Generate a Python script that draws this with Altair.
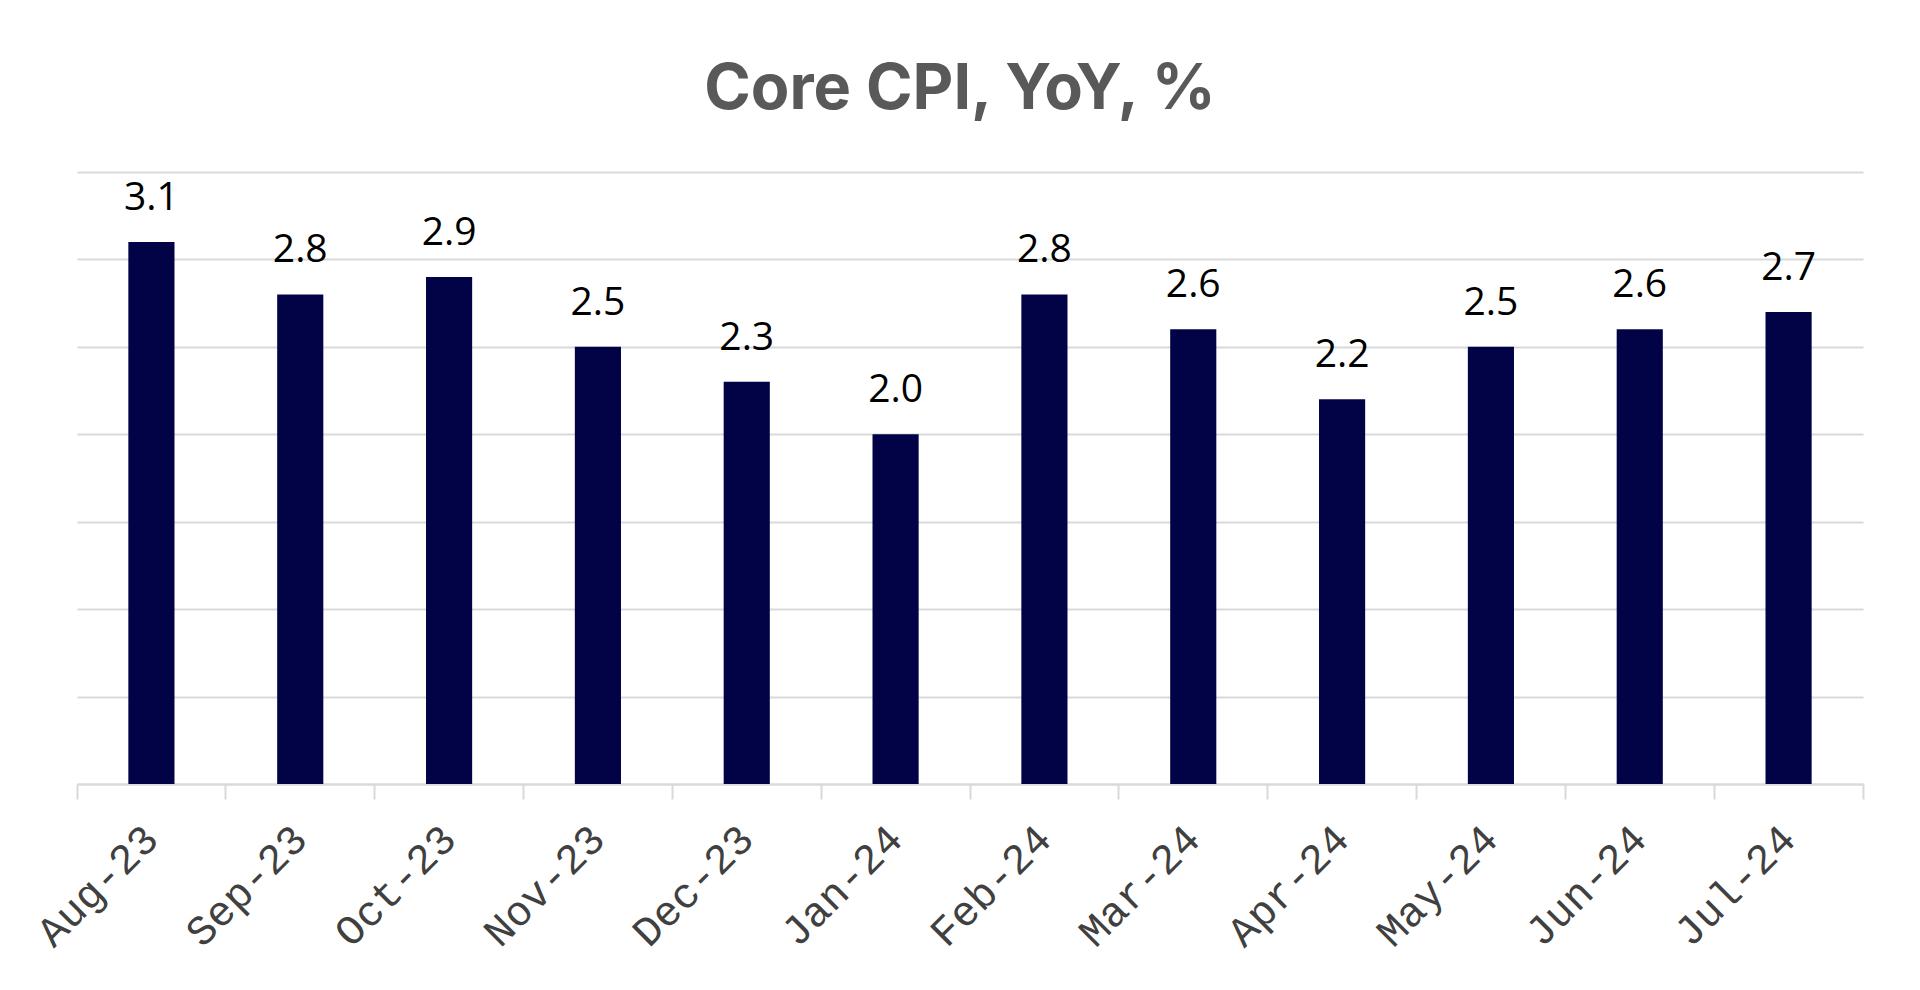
import altair as alt
import pandas as pd

months = ["Aug-23", "Sep-23", "Oct-23", "Nov-23", "Dec-23", "Jan-24",
          "Feb-24", "Mar-24", "Apr-24", "May-24", "Jun-24", "Jul-24"]
values = [3.1, 2.8, 2.9, 2.5, 2.3, 2.0, 2.8, 2.6, 2.2, 2.5, 2.6, 2.7]
grid_values = [0, 0.5, 1.0, 1.5, 2.0, 2.5, 3.0, 3.5]

df = pd.DataFrame({"month": months, "value": values})

W = 1786

x_enc = alt.X("month:N", sort=months, title=None,
              scale=alt.Scale(paddingInner=0, paddingOuter=0),
              axis=alt.Axis(labelAngle=-45, labelAlign="right", labelBaseline="middle",
                            labelFont="Liberation Mono", labelFontSize=42,
                            labelColor="#404040", labelPadding=33,
                            bandPosition=1, tickExtra=True,
                            tickSize=15, tickWidth=2,
                            tickColor="#d9d9d9", domainColor="#d9d9d9",
                            domainWidth=2, grid=False))
y_enc = alt.Y("value:Q", title=None,
              scale=alt.Scale(domain=[0, 3.5], nice=False, zero=True),
              axis=alt.Axis(values=grid_values, labels=False, ticks=False,
                            domain=False, grid=True, gridColor="#d9d9d9",
                            gridWidth=2))

base = alt.Chart(df)
bars = base.mark_bar(color="#020347", width=alt.RelativeBandSize(0.31)).encode(x=x_enc, y=y_enc)
text = base.mark_text(font="Open Sans", fontSize=39, color="#000000",
                      baseline="alphabetic", dy=-32).encode(
    x=alt.X("month:N", sort=months),
    y=alt.Y("value:Q"),
    text=alt.Text("value:Q", format=".1f"))

chart = alt.layer(bars, text).properties(
    width=W, height=612,
    title=alt.TitleParams("Core CPI, YoY, %", font="Inter", fontSize=63,
                          fontWeight="bold", color="#595959", anchor="middle",
                          offset=50, dx=-10),
    autosize=alt.AutoSizeParams(type="none"),
    padding={"left": 69, "top": 164, "right": 40, "bottom": 190},
).configure_view(stroke=None)

chart.save("out.html", embed_options={"renderer": "svg", "actions": False})
